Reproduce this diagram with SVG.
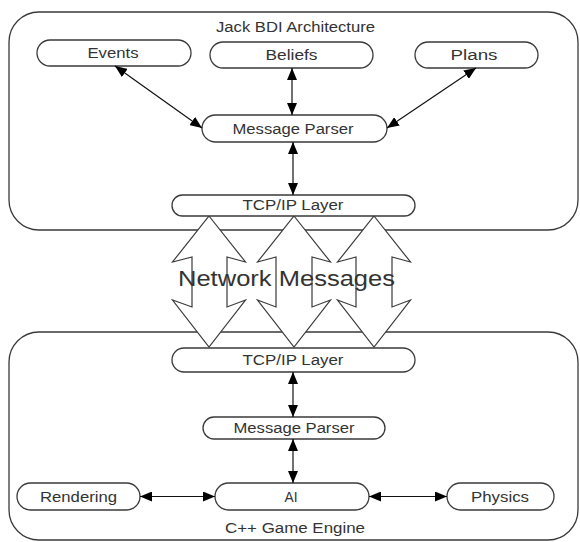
<svg xmlns="http://www.w3.org/2000/svg" width="580" height="542" viewBox="0 0 580 542">
<style>
.cont{fill:#fff;stroke:#3a3a3a;stroke-width:1.3}
.node{fill:#fff;stroke:#3a3a3a;stroke-width:1.3}
.blk{fill:#fff;stroke:#3a3a3a;stroke-width:1.2;stroke-linejoin:miter}
.lbl{font-family:"Liberation Sans",Arial,sans-serif;font-size:14px;fill:#333;text-anchor:middle}
.big{font-family:"Liberation Sans",Arial,sans-serif;font-size:22px;fill:#333;text-anchor:middle}
.conn{stroke:#111;stroke-width:1.2;fill:none;marker-start:url(#ah);marker-end:url(#ah)}
</style>
<defs>
<marker id="ah" viewBox="0 0 12 10" refX="12" refY="5" markerWidth="12" markerHeight="10" markerUnits="userSpaceOnUse" orient="auto-start-reverse">
<path d="M0,0 L12,5 L0,10 z" fill="#000"/>
</marker>
</defs>
<g id="jack-container">
<rect class="cont" x="9" y="12" width="569" height="218" rx="30" ry="30"/>
<text class="lbl" x="295.5" y="32" textLength="159" lengthAdjust="spacingAndGlyphs">Jack BDI Architecture</text>
</g>
<g id="engine-container">
<rect class="cont" x="9" y="332" width="569" height="208" rx="30" ry="30"/>
<text class="lbl" x="295" y="533" textLength="140" lengthAdjust="spacingAndGlyphs">C++ Game Engine</text>
</g>
<g id="network-messages">
<polygon class="blk" points="209,216 245.5,262 227,257 227,307 245.5,300 209,347 172.5,300 192,307 192,257 172.5,262"/>
<polygon class="blk" points="294,216 330.5,262 312,257 312,307 330.5,300 294,347 257.5,300 276,307 276,257 257.5,262"/>
<polygon class="blk" points="374,216 410.5,262 392,257 392,307 410.5,300 374,347 337.5,300 356,307 356,257 337.5,262"/>
<text class="big" x="286.5" y="286" textLength="217" lengthAdjust="spacingAndGlyphs">Network Messages</text>
</g>
<g id="events">
<rect class="node" x="37" y="40" width="154" height="26" rx="13"/>
<text class="lbl" x="113" y="58" textLength="51" lengthAdjust="spacingAndGlyphs">Events</text>
</g>
<g id="beliefs">
<rect class="node" x="210" y="42" width="163" height="26" rx="13"/>
<text class="lbl" x="291.5" y="60" textLength="52" lengthAdjust="spacingAndGlyphs">Beliefs</text>
</g>
<g id="plans">
<rect class="node" x="415" y="42" width="123" height="26" rx="13"/>
<text class="lbl" x="474" y="60" textLength="47" lengthAdjust="spacingAndGlyphs">Plans</text>
</g>
<g id="parser-top">
<rect class="node" x="202" y="115" width="185" height="27" rx="13.5"/>
<text class="lbl" x="293" y="133.5" textLength="121" lengthAdjust="spacingAndGlyphs">Message Parser</text>
</g>
<g id="tcp-top">
<rect class="node" x="172" y="195" width="243" height="21" rx="10.5"/>
<text class="lbl" x="293" y="210" textLength="101" lengthAdjust="spacingAndGlyphs">TCP/IP Layer</text>
</g>
<g id="tcp-bottom">
<rect class="node" x="172" y="348" width="243" height="24" rx="12"/>
<text class="lbl" x="293" y="365" textLength="101" lengthAdjust="spacingAndGlyphs">TCP/IP Layer</text>
</g>
<g id="parser-bottom">
<rect class="node" x="203" y="417" width="182" height="22" rx="11"/>
<text class="lbl" x="294" y="433" textLength="121" lengthAdjust="spacingAndGlyphs">Message Parser</text>
</g>
<g id="rendering">
<rect class="node" x="17" y="483" width="123" height="27" rx="13.5"/>
<text class="lbl" x="78.5" y="501.5" textLength="77" lengthAdjust="spacingAndGlyphs">Rendering</text>
</g>
<g id="ai">
<rect class="node" x="215" y="483" width="154" height="27" rx="13.5"/>
<text class="lbl" x="291" y="501.5" textLength="13" lengthAdjust="spacingAndGlyphs">AI</text>
</g>
<g id="physics">
<rect class="node" x="447" y="483" width="107" height="27" rx="13.5"/>
<text class="lbl" x="500" y="501.5" textLength="58" lengthAdjust="spacingAndGlyphs">Physics</text>
</g>
<g id="connectors">
<line class="conn" x1="115" y1="66" x2="202" y2="128"/>
<line class="conn" x1="292" y1="68" x2="292" y2="115"/>
<line class="conn" x1="476" y1="68" x2="387" y2="128"/>
<line class="conn" x1="293" y1="142" x2="293" y2="195"/>
<line class="conn" x1="293" y1="372" x2="293" y2="417"/>
<line class="conn" x1="293" y1="439" x2="293" y2="483"/>
<line class="conn" x1="140" y1="496.5" x2="215" y2="496.5"/>
<line class="conn" x1="369" y1="496.5" x2="447" y2="496.5"/>
</g>
</svg>
